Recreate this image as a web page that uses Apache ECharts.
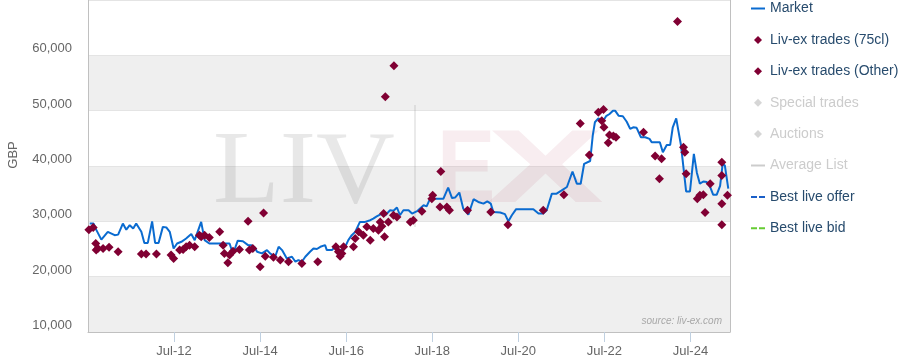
<!DOCTYPE html>
<html><head><meta charset="utf-8">
<script src="https://cdn.jsdelivr.net/npm/echarts@6/dist/echarts.min.js"></script>
<style>html,body{margin:0;padding:0;background:#fff}#c{width:901px;height:363px}</style>
</head><body><div id="c"></div>
<script>
// ---- data (x = decimal year) ----
const marketDates = [2010.54,2010.63,2010.69,2010.81,2010.96,2011.12,2011.20,2011.31,2011.39,2011.47,2011.55,2011.62,2011.74,2011.81,2011.89,2011.99,2012.06,2012.14,2012.24,2012.32,2012.40,2012.49,2012.57,2012.67,2012.78,2012.90,2012.98,2013.13,2013.21,2013.32,2013.71,2013.79,2013.87,2013.98,2014.10,2014.22,2014.29,2014.37,2014.43,2014.54,2014.66,2014.73,2014.85,2014.93,2015.01,2015.12,2015.24,2015.32,2015.39,2015.47,2015.55,2015.66,2015.74,2015.82,2015.90,2016.01,2016.05,2016.17,2016.24,2016.32,2016.44,2016.55,2016.63,2016.71,2016.82,2016.94,2017.06,2017.13,2017.21,2017.33,2017.41,2017.52,2017.60,2017.68,2017.75,2017.83,2017.95,2018.03,2018.06,2018.16,2018.30,2018.37,2018.45,2018.61,2018.76,2018.87,2018.96,2019.03,2019.13,2019.22,2019.34,2019.46,2019.57,2019.69,2019.78,2019.86,2019.92,2020.08,2020.19,2020.27,2020.35,2020.45,2020.85,2020.97,2021.08,2021.16,2021.28,2021.39,2021.51,2021.63,2021.76,2021.86,2021.95,2022.03,2022.17,2022.23,2022.28,2022.36,2022.46,2022.54,2022.62,2022.70,2022.75,2022.83,2022.93,2023.02,2023.10,2023.17,2023.25,2023.35,2023.45,2023.55,2023.60,2023.79,2023.86,2023.95,2024.03,2024.09,2024.17,2024.22,2024.28,2024.32,2024.40,2024.49,2024.58,2024.65,2024.72,2024.80,2024.88,2024.96,2025.03,2025.11,2025.19,2025.25,2025.30,2025.38];
const marketValues = [29600,29600,28500,26700,28100,27500,27600,29600,28500,29300,28700,29600,28100,26100,26100,30000,26100,26100,29000,28900,28100,25100,26000,26300,26900,27700,26600,29900,26600,26000,26000,26000,24100,26500,26400,25700,25700,25300,24500,24200,24800,24200,23600,25400,24800,23300,23600,22700,23000,22700,23600,24500,25100,25000,25400,25700,24800,24800,25400,24800,24800,26600,27500,28100,29900,29900,30200,30500,30900,31400,31100,32000,31900,32500,31100,32000,32000,31400,31100,31900,32900,32700,34100,34100,34100,36100,34200,34300,35200,32300,31200,34000,33500,33200,33600,33200,31700,31600,31300,30000,31100,32200,32200,31400,31400,32000,35000,35000,35600,36200,39000,36800,36800,40400,40900,45500,47900,48600,48000,49000,49400,50000,50000,49100,49000,48000,46700,47000,46900,45200,45200,44900,44300,44300,42500,43800,43800,47000,48600,46400,43800,43800,35400,35400,42200,38800,36800,37200,37100,36200,34800,34800,36400,40400,40100,35900];

const trades75Dates = [2010.52,2010.62,2010.68,2010.73,2010.69,2010.85,2010.99,2011.20,2011.74,2011.85,2012.09,2012.43,2012.49,2012.63,2012.71,2012.78,2012.86,2012.98,2013.09,2013.13,2013.21,2013.32,2013.64,2013.67,2013.79,2013.75,2013.87,2014.02,2014.25,2014.33,2014.50,2014.62,2014.81,2014.97,2015.16,2015.47,2015.84,2016.26,2016.32,2016.40,2016.36,2016.44,2016.67,2016.71,2016.79,2016.90,2016.98,2017.06,2017.13,2017.25,2017.29,2017.37,2017.33,2017.39,2017.48,2017.60,2017.68,2017.99,2018.06,2018.26,2018.51,2018.49,2018.68,2018.84,2018.90,2019.32,2019.86,2020.26,2021.08,2021.56,2022.15,2022.36,2022.48,2022.44,2022.49,2022.62,2022.71,2022.77,2022.59,2023.41,2023.68,2023.83,2024.34,2024.37,2024.40,2024.72,2024.80,2024.66,2024.96,2025.23,2025.23,2025.23,2025.36];
const trades75Values = [28500,28900,26000,25100,24800,25100,25300,24500,24100,24100,24100,23900,23300,24800,24900,25400,25700,25400,27500,27200,27500,27100,25700,24200,23900,22500,24600,24900,24800,25100,21800,23700,23500,23000,22700,22400,22700,25400,24500,24200,23700,25400,25400,26900,28100,27500,29000,26600,28700,28400,29900,31400,29100,27200,29900,31100,30800,29900,30200,31800,34700,34100,32600,32600,32000,32000,31700,29400,32000,34800,42000,49700,50200,48200,47000,45600,45400,45200,44200,46100,41800,41300,43400,42500,38600,34700,34800,34100,36800,40700,38300,33200,34700];

const tradesOtherDates = [2013.56,2014.22,2014.58,2017.41,2017.61,2018.70,2021.94,2023.78,2024.20,2024.84,2025.23];
const tradesOtherValues = [28100,30000,31500,52500,58100,39000,47700,37700,66100,31600,29400];

const xTickValues = [2012.5,2014.5,2016.5,2018.5,2020.5,2022.5,2024.5];
const xTickLabels = ['Jul-12','Jul-14','Jul-16','Jul-18','Jul-20','Jul-22','Jul-24'];
const legendNames = ['Market','Liv-ex trades (75cl)','Liv-ex trades (Other)','Special trades','Auctions','Average List','Best live offer','Best live bid'];
const yAxisTitle = 'GBP';
const sourceText = 'source: liv-ex.com';

// ---- build ----
const zip = (a, b) => a.map((x, i) => [x, b[i]]);
const FONT = '"Liberation Sans", Arial, sans-serif';
const LINE_ICON = 'path://M0,0H14V2H0Z';
const DASH_ICON = 'path://M0,0H6V2H0Z M8,0H14V2H8Z';
const DIAMOND_ICON = 'path://M5,0L10,5L5,10L0,5Z';
const MAROON = '#800033';
const chart = echarts.init(document.getElementById('c'), null, {renderer: 'canvas'});

chart.setOption({
  animation: false,
  textStyle: {fontFamily: FONT},
  grid: {left: 88, right: 171, top: -1, bottom: 31, containLabel: false},
  xAxis: {
    type: 'value', min: 2010.5, max: 2025.42,
    axisLine: {show: true, onZero: false, lineStyle: {color: '#c0c0c0', width: 1}},
    axisTick: {show: true, length: 10, customValues: xTickValues, lineStyle: {color: '#c0d0e0'}},
    axisLabel: {customValues: xTickValues, color: '#666', fontSize: 13, margin: 13,
      formatter: v => { const i = xTickValues.findIndex(t => Math.abs(t - v) < 0.01); return i >= 0 ? xTickLabels[i] : ''; }},
    splitLine: {show: false}
  },
  yAxis: [{
    type: 'value', min: 10000, max: 70000, interval: 10000,
    axisLine: {show: true, lineStyle: {color: '#c0c0c0', width: 1}},
    axisTick: {show: false},
    axisLabel: {color: '#666', fontSize: 13, margin: 16, showMaxLabel: false,
      verticalAlign: 'bottom', lineHeight: 13,
      formatter: v => v.toLocaleString('en-US')},
    splitLine: {show: true, lineStyle: {color: '#e4e4e4', width: 1}},
    splitArea: {show: true, areaStyle: {color: ['#efefef', '#ffffff']}}
  }, {
    type: 'value', min: 10000, max: 70000, interval: 10000, position: 'right',
    axisLine: {show: true, lineStyle: {color: '#c0c0c0', width: 1}},
    axisTick: {show: false}, axisLabel: {show: false}, splitLine: {show: false}
  }],
  legend: {
    orient: 'vertical', left: 751, top: 1.5, padding: 0,
    itemWidth: 14, itemHeight: 8, itemGap: 17.4,
    textStyle: {color: '#274b6d', fontSize: 14, fontFamily: FONT},
    inactiveColor: '#cccccc',
    data: [
      {name: legendNames[0], icon: LINE_ICON},
      {name: legendNames[1], icon: DIAMOND_ICON},
      {name: legendNames[2], icon: DIAMOND_ICON},
      {name: legendNames[3], icon: DIAMOND_ICON},
      {name: legendNames[4], icon: DIAMOND_ICON},
      {name: legendNames[5], icon: LINE_ICON},
      {name: legendNames[6], icon: DASH_ICON},
      {name: legendNames[7], icon: DASH_ICON}
    ],
    selected: {[legendNames[3]]: false, [legendNames[4]]: false, [legendNames[5]]: false}
  },
  graphic: [
    {type: 'text', left: 213, top: 123.5, z: 1, silent: true, scaleX: 1.06,
      style: {text: 'LIV', font: '103px "Liberation Serif", "Times New Roman", serif', fill: 'rgba(110,110,110,0.16)'}},
    {type: 'rect', left: 414, top: 105, z: 1, silent: true, shape: {width: 2, height: 122},
      style: {fill: 'rgba(140,140,140,0.18)'}},
    {type: 'text', left: 437, top: 122.5, z: 1, silent: true, scaleX: 0.85,
      style: {text: 'E', font: 'bold 103px "Liberation Sans", Arial, sans-serif', fill: 'rgba(170,20,60,0.08)'}},
    {type: 'text', left: 487, top: 122.5, z: 1, silent: true, scaleX: 1.7,
      style: {text: 'X', font: 'bold 103px "Liberation Sans", Arial, sans-serif', fill: 'rgba(170,20,60,0.08)'}},
    {type: 'text', right: 179, top: 316, z: 1, silent: true,
      style: {text: sourceText, font: 'italic 10px "Liberation Sans", Arial, sans-serif', fill: '#a8a8a8'}},
    {type: 'text', x: 13, y: 155, z: 5, rotation: Math.PI / 2, silent: true,
      style: {text: yAxisTitle, font: '13px "Liberation Sans", Arial, sans-serif', fill: '#666', align: 'center', verticalAlign: 'middle'}}
  ],
  series: [
    {name: legendNames[0], type: 'line', data: zip(marketDates, marketValues), showSymbol: false, symbol: 'none',
      lineStyle: {color: '#0a6bd0', width: 2}, itemStyle: {color: '#0a6bd0'}, z: 3},
    {name: legendNames[1], type: 'scatter', data: zip(trades75Dates, trades75Values), symbol: 'diamond', symbolSize: 9,
      itemStyle: {color: MAROON, opacity: 1}, z: 4},
    {name: legendNames[2], type: 'scatter', data: zip(tradesOtherDates, tradesOtherValues), symbol: 'diamond', symbolSize: 9,
      itemStyle: {color: MAROON, opacity: 1}, z: 4},
    {name: legendNames[3], type: 'scatter', data: [], symbol: 'diamond', itemStyle: {color: '#aaaaaa'}},
    {name: legendNames[4], type: 'scatter', data: [], symbol: 'diamond', itemStyle: {color: '#aaaaaa'}},
    {name: legendNames[5], type: 'line', data: [], symbol: 'none', lineStyle: {color: '#aaaaaa'}, itemStyle: {color: '#aaaaaa'}},
    {name: legendNames[6], type: 'line', data: [], symbol: 'none', lineStyle: {color: '#1a5fc8', type: 'dashed'}, itemStyle: {color: '#1a5fc8'}},
    {name: legendNames[7], type: 'line', data: [], symbol: 'none', lineStyle: {color: '#66cc33', type: 'dashed'}, itemStyle: {color: '#66cc33'}}
  ]
});
</script></body></html>
